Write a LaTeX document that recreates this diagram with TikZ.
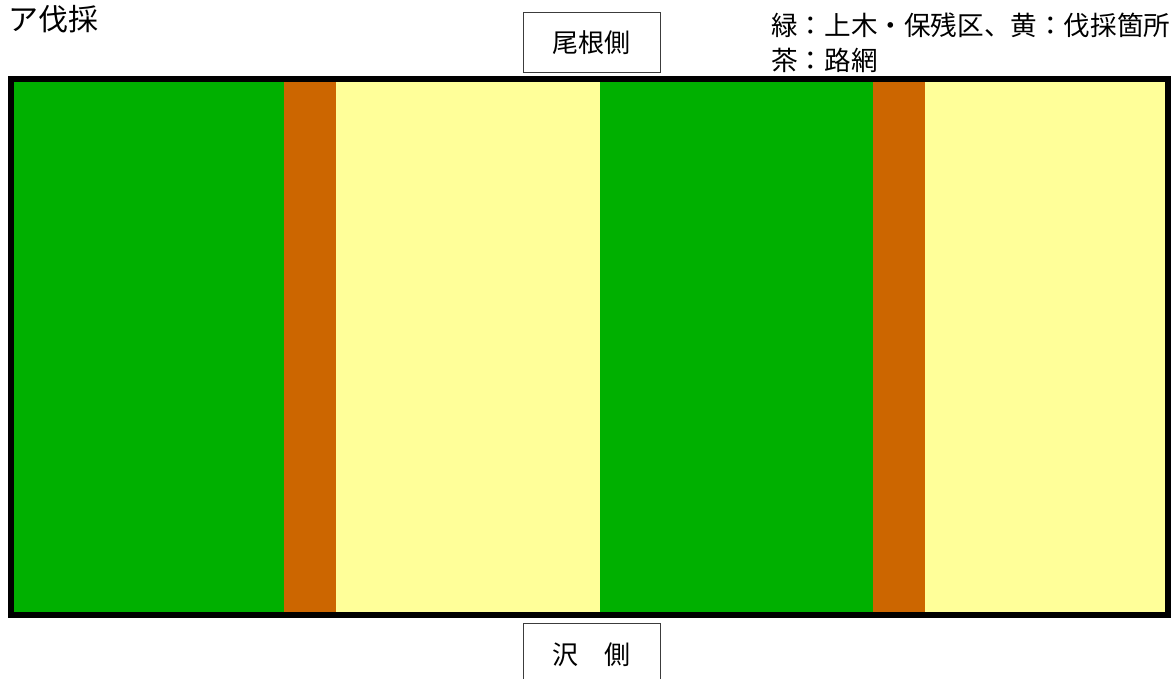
\documentclass[tikz,border=0pt]{standalone}
\usepackage{fontspec}
\newfontfamily\jpfont{Noto Sans CJK JP}
\definecolor{stripgreen}{RGB}{0,176,0}
\definecolor{stripbrown}{RGB}{204,102,0}
\definecolor{stripyellow}{RGB}{255,255,153}
\definecolor{boxline}{RGB}{60,60,60}
\tikzset{
  jp/.style={font=\jpfont\fontsize{#1}{#1}\selectfont, inner sep=0pt},
  sidebox/.style={draw=boxline, line width=1pt, minimum width=137pt, inner sep=0pt},
}
\begin{document}
\begin{tikzpicture}[x=1pt,y=-1pt]
\useasboundingbox (0,0) rectangle (1176,679);
\clip (0,0) rectangle (1176,679);
% stripes
\fill[stripgreen]  (11,79)  rectangle (284,615);
\fill[stripbrown]  (284,79) rectangle (336,615);
\fill[stripyellow] (336,79) rectangle (600,615);
\fill[stripgreen]  (600,79) rectangle (873,615);
\fill[stripbrown]  (873,79) rectangle (925,615);
\fill[stripyellow] (925,79) rectangle (1168,615);
% frame
\draw[line width=6pt] (11,79) rectangle (1168,615);
% title
\node[jp=30, anchor=base west] (title) at (8,31) {ア伐採};
% top box
\node[sidebox, minimum height=60pt, anchor=north] (ridgebox) at (591.5,12) {};
\node[jp=26, anchor=base] (ridge) at (591.5,53) {尾根側};
% bottom box
\node[sidebox, minimum height=80pt, anchor=north] (valleybox) at (591.5,623) {};
\node[jp=26, anchor=base] (valley) at (591.5,664) {沢　側};
% legend
\node[jp=26.6, anchor=base west] (legend1) at (771,36) {緑：上木・保残区、黄：伐採箇所};
\node[jp=26.6, anchor=base west] (legend2) at (771,71) {茶：路網};
\end{tikzpicture}
\end{document}
